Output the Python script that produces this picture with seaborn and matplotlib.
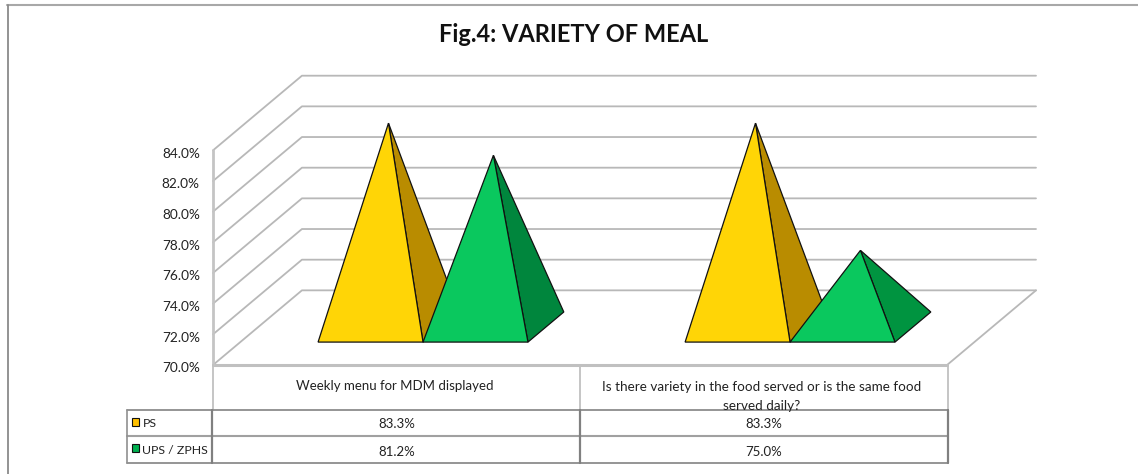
import seaborn as sns
import pandas as pd
import matplotlib.pyplot as plt
from matplotlib.lines import Line2D
from matplotlib.patches import Rectangle
from matplotlib.transforms import ScaledTranslation

categories = ['Weekly menu for MDM displayed',
              'Is there variety in the food served or is the same food\nserved daily?']
series_names = ['PS', 'UPS / ZPHS']
ps_values = [83.3, 83.3]
ups_values = [81.2, 75.0]
y_ticks = [70, 72, 74, 76, 78, 80, 82, 84]

W, H = 1138, 474
sns.set_theme(style='white')
plt.rcParams['font.family'] = ['Lato', 'DejaVu Sans']


def px(x, y):
    return x / W, 1 - y / H


fig = plt.figure(figsize=(W / 100, H / 100), dpi=100)

# the axes run from the front left corner to the back right corner of the 3d box
cat_w = 367.25
unit_h = 15.32
dx = 89 / cat_w
dy = 74.6 / unit_h
x0, y0 = px(213, 365)
x1, y1 = px(1036, 75.7)
ax = fig.add_axes([x0, y0, x1 - x0, y1 - y0])
ax.set_xlim(0, 2 + dx)
ax.set_ylim(70, 84 + dy)

# walls and floor
rows = []
for t in y_ticks:
    rows.append({'line': t, 'x': 0, 'y': t})
    rows.append({'line': t, 'x': dx, 'y': t + dy})
    rows.append({'line': t, 'x': 2 + dx, 'y': t + dy})
rows.append({'line': 'side', 'x': 2 + dx, 'y': 70 + dy})
rows.append({'line': 'side', 'x': 2, 'y': 70})
grid = pd.DataFrame(rows)
sns.lineplot(data=grid, x='x', y='y', units='line', estimator=None, sort=False,
             color='#b8b8b8', lw=1.3, ax=ax, clip_on=False)
ax.plot([0, 2], [70, 70], color='#c0c0c0', lw=2.2, clip_on=False)
ax.plot([0, 0], [70, 84], color='#c4c4c4', lw=2, clip_on=False)

# pyramids, front face + right side face
bar_w = 105 / cat_w
shift = 0.8 / cat_w
front = 0.307
back = 0.71
front_cols = ['#ffd506', '#0ac85e']
side_cols = ['#b98c00', '#00863d']
for i in range(len(categories)):
    for j, vals in enumerate([ps_values, ups_values]):
        left = i + 0.5 - bar_w + j * bar_w - shift
        right = left + bar_w
        fl = (left + front * dx, 70 + front * dy)
        fr = (right + front * dx, 70 + front * dy)
        br = (right + back * dx, 70 + back * dy)
        mid = (front + back) / 2
        apex = ((left + right) / 2 + mid * dx, vals[i] + mid * dy)
        side = side_cols[j] if not (j == 1 and i == 1) else '#009440'
        ax.fill(*zip(fr, br, apex), fc=side, ec='#111111', lw=0.9, zorder=3 + j, clip_on=False)
        ax.fill(*zip(fl, fr, apex), fc=front_cols[j], ec='#111111', lw=0.9, zorder=3 + j, clip_on=False)

ax.set_yticks(y_ticks)
ax.set_yticklabels([f'{t:.1f}%' for t in y_ticks], fontsize=9.8, color='#222222')
ax.tick_params(axis='y', length=0, pad=9.5)
down = ScaledTranslation(0, -2.5 / 72, fig.dpi_scale_trans)
for lab in ax.get_yticklabels():
    lab.set_verticalalignment('center')
    lab.set_transform(lab.get_transform() + down)
ax.set_xticks([])
ax.set_xlabel('')
ax.set_ylabel('')
ax.patch.set_alpha(0)
sns.despine(ax=ax, left=True, bottom=True)

fig.text(*px(574, 35), 'Fig.4: VARIETY OF MEAL', fontsize=17, fontweight='bold',
         ha='center', va='center', color='#111111')


def hline(x_a, x_b, y, c='#8c8c8c', lw=1.3):
    fig.add_artist(Line2D([x_a / W, x_b / W], [1 - y / H, 1 - y / H], color=c, lw=lw))


def vline(x, y_a, y_b, c='#8c8c8c', lw=1.3):
    fig.add_artist(Line2D([x / W, x / W], [1 - y_a / H, 1 - y_b / H], color=c, lw=lw))


# chart frame
hline(7, W, 5, '#a8a8a8', 1.5)
vline(7.5, 5, H, '#8a8a8a', 1.3)

# data table
vline(213, 365, 410, '#c0c0c0', 1.3)
vline(580, 365, 410, '#c0c0c0', 1.3)
vline(947.5, 365, 410, '#c0c0c0', 1.3)
hline(126.5, 948, 409.5)
hline(126.5, 948, 436, '#a0a0a0', 1.5)
hline(126.5, 948, 462.5)
vline(126.5, 409.5, 462.5, '#909090', 1.2)
vline(212, 409.5, 462.5, '#808080', 1.6)
vline(580, 409.5, 462.5, '#808080', 1.6)
vline(947.5, 409.5, 462.5, '#808080', 1.6)

cat_centers = [395, 762]
cat_line_y = [[386.5], [387, 405.5]]
for i, cat in enumerate(categories):
    for txt, y in zip(cat.split('\n'), cat_line_y[i]):
        fig.text(*px(cat_centers[i], y), txt, fontsize=9.5 if i == 0 else 9.7,
                 ha='center', va='center', color='#222222')
    fig.text(*px(cat_centers[i] + 1.5, 424.5), f'{ps_values[i]:.1f}%', fontsize=9.5,
             ha='center', va='center', color='#222222')
    fig.text(*px(cat_centers[i] + 1.5, 451.5), f'{ups_values[i]:.1f}%', fontsize=9.5,
             ha='center', va='center', color='#222222')

# legend keys in the table
key_cols = ['#ffc000', '#00b050']
key_y = [417.5, 444]
label_y = [423.5, 450.5]
for name, col, ky, ly in zip(series_names, key_cols, key_y, label_y):
    fig.add_artist(Rectangle(px(132, ky + 8), 7 / W, 8 / H, fc=col, ec='#111111', lw=0.8))
    fig.text(*px(142.5, ly), name, fontsize=8.9, ha='left', va='center', color='#222222')

plt.savefig('out.png', dpi=100)
